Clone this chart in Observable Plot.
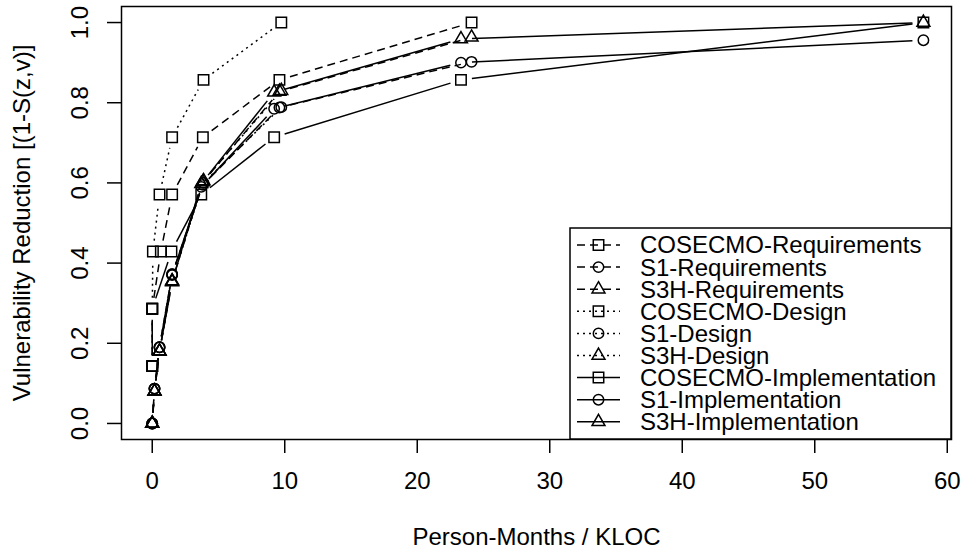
<!DOCTYPE html>
<html><head><meta charset="utf-8">
<script src="https://cdn.jsdelivr.net/npm/d3@7"></script>
<script src="https://cdn.jsdelivr.net/npm/@observablehq/plot@0.6"></script>
<style>body{margin:0;background:#fff}</style>
</head><body><div id="chart"></div>
<script>
// ---- data ----
const seriesNames = ["COSECMO-Requirements","S1-Requirements","S3H-Requirements","COSECMO-Design","S1-Design","S3H-Design","COSECMO-Implementation","S1-Implementation","S3H-Implementation"];
const seriesModel = ["COSECMO","S1","S3H","COSECMO","S1","S3H","COSECMO","S1","S3H"];
const seriesPhase = ["Requirements","Requirements","Requirements","Design","Design","Design","Implementation","Implementation","Implementation"];

const cosecmoReqX = [0, 0, 0.65, 1.5, 3.82, 9.6, 24.1];
const cosecmoReqY = [0.143, 0.286, 0.429, 0.571, 0.714, 0.857, 1.0];
const s1ReqX = [0, 0.17, 0.55, 1.5, 3.82, 9.6, 24.1];
const s1ReqY = [0, 0.087, 0.19, 0.372, 0.595, 0.788, 0.902];
const s3hReqX = [0, 0.17, 0.55, 1.5, 3.82, 9.6, 24.1];
const s3hReqY = [0, 0.08, 0.18, 0.355, 0.602, 0.828, 0.963];

const cosecmoDesX = [0, 0, 0.05, 0.55, 1.5, 3.87, 9.74];
const cosecmoDesY = [0.143, 0.286, 0.429, 0.571, 0.714, 0.857, 1.0];
const s1DesX = [0, 0.17, 0.55, 1.5, 3.87, 9.74];
const s1DesY = [0, 0.087, 0.19, 0.372, 0.6, 0.789];
const s3hDesX = [0, 0.17, 0.55, 1.5, 3.87, 9.74];
const s3hDesY = [0, 0.08, 0.18, 0.355, 0.605, 0.83];

const cosecmoImpX = [0, 0, 1.45, 3.7, 9.2, 23.3, 58.2];
const cosecmoImpY = [0.143, 0.286, 0.429, 0.571, 0.714, 0.857, 1.0];
const s1ImpX = [0, 0.17, 0.55, 1.5, 3.7, 9.2, 23.3, 58.2];
const s1ImpY = [0, 0.087, 0.19, 0.37, 0.59, 0.785, 0.9, 0.956];
const s3hImpX = [0, 0.17, 0.55, 1.5, 3.7, 9.2, 23.3, 58.2];
const s3hImpY = [0, 0.08, 0.18, 0.353, 0.598, 0.826, 0.959, 1.0];

const xTicks = [0, 10, 20, 30, 40, 50, 60];
const yTicks = [0, 0.2, 0.4, 0.6, 0.8, 1.0];
const xLabel = "Person-Months / KLOC";
const yLabel = "Vulnerability Reduction [(1-S(z,v)]";

// ---- build tables ----
const seriesX = [cosecmoReqX, s1ReqX, s3hReqX, cosecmoDesX, s1DesX, s3hDesX, cosecmoImpX, s1ImpX, s3hImpX];
const seriesY = [cosecmoReqY, s1ReqY, s3hReqY, cosecmoDesY, s1DesY, s3hDesY, cosecmoImpY, s1ImpY, s3hImpY];
const points = [], segments = [];
seriesNames.forEach((name, s) => {
  const xs = seriesX[s], ys = seriesY[s];
  xs.forEach((x, i) => {
    points.push({series: name, model: seriesModel[s], phase: seriesPhase[s], x, y: ys[i]});
    if (i > 0) segments.push({series: name, phase: seriesPhase[s], x1: xs[i-1], y1: ys[i-1], x2: x, y2: ys[i]});
  });
});

const dashFor = {Requirements: "8,5", Design: "2,4", Implementation: null};
const symFor = {COSECMO: {symbol: "square", r: 5.9}, S1: {symbol: "circle", r: 5.2}, S3H: {symbol: "triangle", r: 4.8}};
const LW = 1.5;

const lineMarks = ["Requirements", "Design", "Implementation"].map(ph =>
  Plot.arrow(segments.filter(d => d.phase === ph), {
    x1: "x1", y1: "y1", x2: "x2", y2: "y2",
    headLength: 0, inset: 11, stroke: "#000", strokeWidth: LW,
    strokeLinecap: "butt", strokeDasharray: dashFor[ph] || undefined
  })
);
const dotMarks = ["COSECMO", "S1", "S3H"].map(m =>
  Plot.dot(points.filter(d => d.model === m), {
    x: "x", y: "y", symbol: symFor[m].symbol, r: symFor[m].r,
    stroke: "#000", fill: "none", strokeWidth: LW
  })
);

const chart = Plot.plot({
  width: 961, height: 556,
  marginLeft: 121, marginRight: 10, marginTop: 6, marginBottom: 117,
  x: {domain: [-2.32, 60.32]},
  y: {domain: [-0.04, 1.04]},
  style: {fontFamily: "'Liberation Sans', Arial, Helvetica, sans-serif", fontSize: "24px", color: "#000", background: "#fff", overflow: "visible"},
  marks: [
    ...lineMarks,
    ...dotMarks,
    Plot.frame({stroke: "#000", strokeWidth: LW}),
    Plot.axisX(xTicks, {tickSize: 14, tickPadding: 18, fontSize: 24, label: null, strokeWidth: LW, tickFormat: d => String(d)}),
    Plot.axisY(yTicks, {tickSize: 14, tickFormat: () => "", label: null, strokeWidth: LW}),
    Plot.text(yTicks, {y: d => d, text: d => d.toFixed(1), frameAnchor: "left", dx: -34, rotate: -90, textAnchor: "middle", lineAnchor: "bottom", fontSize: 24}),
    Plot.text([yLabel], {text: d => d, frameAnchor: "left", dx: -92, rotate: -90, textAnchor: "middle", lineAnchor: "bottom", fontSize: 24}),
    Plot.text([xLabel], {text: d => d, frameAnchor: "bottom", dy: 88, textAnchor: "middle", lineAnchor: "top", fontSize: 24})
  ]
});

// ---- legend (inside plot, bottom-right) ----
const svg = d3.select(chart);
const L = {left: 570, top: 228, right: 951, bottom: 439, row0: 245, step: 22.1, lx1: 577, lx2: 620, sx: 598.5, tx: 640};
const lg = svg.append("g").attr("class", "legend").attr("text-anchor", "start");
lg.append("rect").attr("x", L.left).attr("y", L.top).attr("width", L.right - L.left).attr("height", L.bottom - L.top)
  .attr("fill", "#fff").attr("stroke", "#000").attr("stroke-width", LW);
seriesNames.forEach((name, i) => {
  const y = L.row0 + i * L.step;
  const dash = dashFor[seriesPhase[i]];
  lg.append("line").attr("x1", L.lx1).attr("x2", L.lx2).attr("y1", y).attr("y2", y)
    .attr("stroke", "#000").attr("stroke-width", LW).attr("stroke-dasharray", dash || null);
  const sf = symFor[seriesModel[i]];
  if (sf.symbol === "circle") {
    lg.append("circle").attr("cx", L.sx).attr("cy", y).attr("r", sf.r).attr("fill", "none").attr("stroke", "#000").attr("stroke-width", LW);
  } else {
    const sym = sf.symbol === "square" ? d3.symbolSquare : d3.symbolTriangle;
    lg.append("path").attr("transform", `translate(${L.sx},${y})`).attr("d", d3.symbol(sym, Math.PI * sf.r * sf.r)())
      .attr("fill", "none").attr("stroke", "#000").attr("stroke-width", LW);
  }
  lg.append("text").attr("x", L.tx).attr("y", y).attr("dy", "0.35em").attr("text-anchor", "start")
    .attr("font-size", 24).attr("fill", "#000").text(name);
});

document.getElementById("chart").appendChild(chart);
</script>
</body></html>
